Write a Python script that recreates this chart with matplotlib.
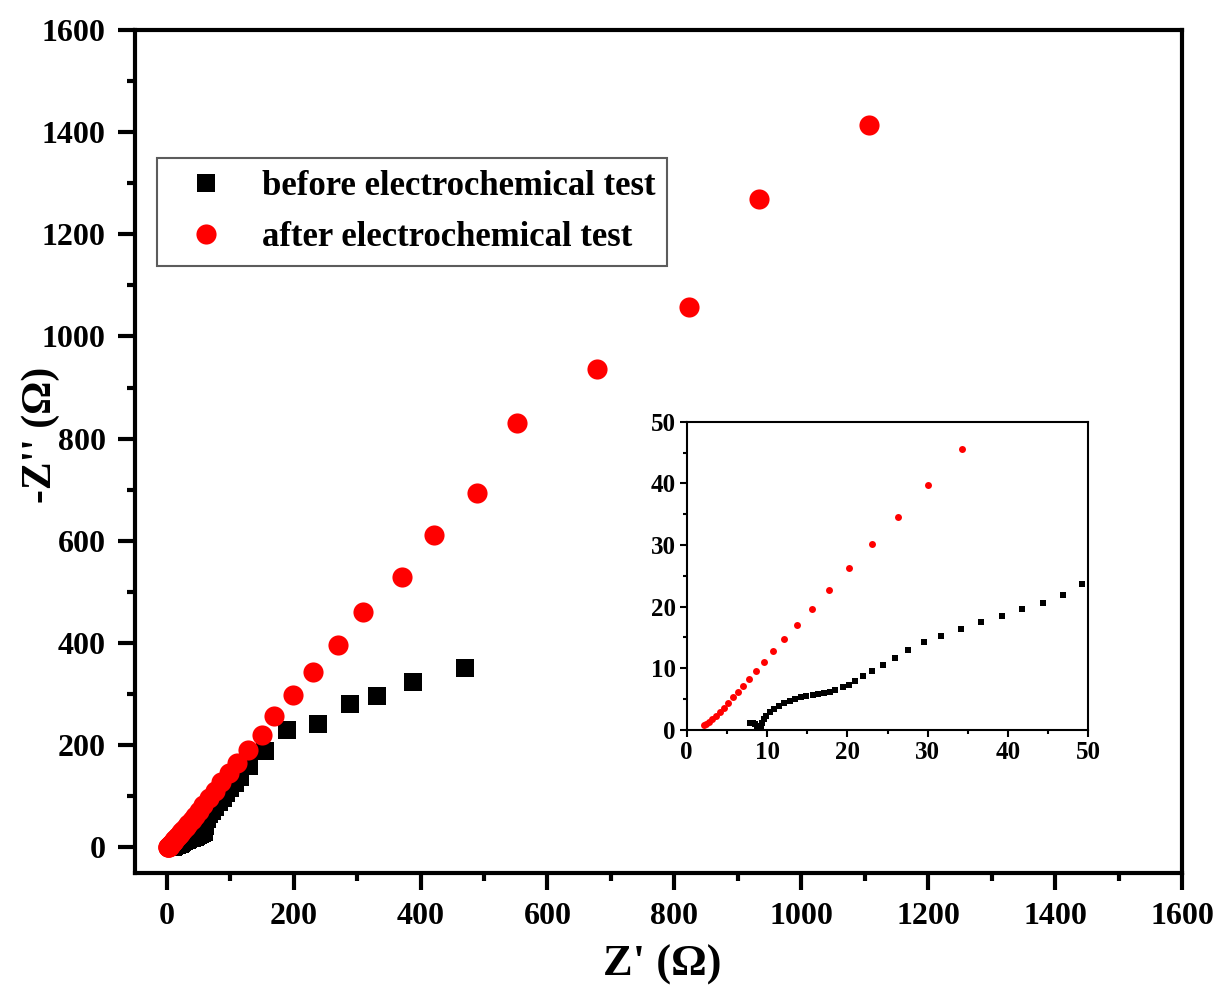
import matplotlib
matplotlib.use("Agg")
import matplotlib.pyplot as plt
from matplotlib.ticker import MultipleLocator
from matplotlib.lines import Line2D

plt.rcParams['font.family'] = ['Liberation Serif', 'DejaVu Serif']
plt.rcParams['font.weight'] = 'bold'

# Nyquist data, before electrochemical test (Z', -Z'' in ohm)
before_x = [7.9, 8.2, 8.5, 8.8, 9.0, 9.2, 9.4, 9.6, 9.9, 10.4, 10.9, 11.5, 12.1,
            12.8, 13.5, 14.2, 14.9, 15.7, 16.4, 17.1, 17.8, 18.5, 19.4, 20.2,
            21.0, 22.0, 23.1, 24.4, 25.9, 27.6, 29.5, 31.6, 34.1, 36.6, 39.2,
            41.8, 44.3, 46.8, 49.2, 52, 55, 58, 61, 64, 67, 71, 76, 82, 88, 94,
            100, 107, 115, 129, 154.5, 189, 238, 288.4, 331, 387.7, 469.7]
before_y = [1.2, 1.05, 0.9, 0.6, 0.5, 0.7, 1.2, 1.7, 2.3, 2.9, 3.4, 3.9, 4.3,
            4.75, 5.1, 5.3, 5.5, 5.6, 5.8, 5.95, 6.2, 6.5, 6.9, 7.35,
            8.0, 8.7, 9.6, 10.6, 11.7, 13.0, 14.2, 15.3, 16.4, 17.5, 18.5,
            19.6, 20.6, 21.9, 23.6, 25.5, 27.5, 31, 42, 55, 66, 72, 79, 88, 97,
            106, 117, 127, 137, 159, 188, 229, 241, 280, 296, 323, 351]

# Nyquist data, after electrochemical test
after_x = [2.1, 2.4, 2.8, 3.2, 3.65, 4.15, 4.6, 5.2, 5.8, 6.35, 7.05, 7.8, 8.6,
           9.6, 10.8, 12.1, 13.7, 15.6, 17.7, 20.2, 23.1, 26.3, 30.1, 34.3,
           39.1, 44.6, 50.8, 57.9, 66.0, 75.3, 85.8, 97.8, 111.5, 128, 150,
           169, 199, 230, 270, 310, 370, 421, 489, 552, 678, 823, 933, 1106]
after_y = [0.8, 0.9, 1.25, 1.7, 2.3, 2.9, 3.6, 4.4, 5.3, 6.2, 7.1, 8.2, 9.6,
           11.1, 12.8, 14.8, 17.1, 19.7, 22.7, 26.2, 30.1, 34.6, 39.8, 45.6,
           53, 62, 72, 83, 96, 111, 128, 146, 166, 190, 221,
           257, 298, 343, 396, 460, 529, 611, 693, 831, 936, 1058, 1269, 1414]

labels = ['before electrochemical test', 'after electrochemical test']
main_ticks = list(range(0, 1601, 200))
inset_ticks = list(range(0, 51, 10))

fig = plt.figure(figsize=(12.25, 9.91), dpi=100)

# ---- main Nyquist plot ----
ax = fig.add_axes([0.1102, 0.1191, 0.8547, 0.8507])
ax.plot(before_x, before_y, ls='none', marker='s', ms=13, mew=0, color='black')
ax.plot(after_x, after_y, ls='none', marker='o', ms=14.5, mew=0, color='red')
ax.set_xlim(-50, 1600)
ax.set_ylim(-50, 1600)
ax.set_xticks(main_ticks)
ax.set_yticks(main_ticks)
ax.xaxis.set_minor_locator(MultipleLocator(100))
ax.yaxis.set_minor_locator(MultipleLocator(100))
ax.tick_params(which='both', direction='out', top=False, right=False, width=3)
ax.tick_params(which='major', length=12)
ax.tick_params(which='minor', length=6)
ax.tick_params(axis='x', which='major', labelsize=23, pad=9)
ax.tick_params(axis='y', which='major', labelsize=23, pad=9)
for sp in ax.spines.values():
    sp.set_linewidth(3)
ax.set_xlabel("Z' (Ω)", fontsize=32, fontweight='bold')
ax.set_ylabel("-Z'' (Ω)", fontsize=30, fontweight='bold')
ax.xaxis.set_label_coords(0.504, -0.085)
ax.yaxis.set_label_coords(-0.072, 0.52)

handles = [Line2D([], [], ls='none', marker='s', ms=13, mew=0, color='black'),
           Line2D([], [], ls='none', marker='o', ms=14.5, mew=0, color='red')]
leg = ax.legend(handles, labels, loc='upper left',
                bbox_to_anchor=(157 / 1225, 1 - 158 / 991),
                bbox_transform=fig.transFigure, borderaxespad=0,
                fontsize=25, frameon=True, fancybox=False, borderpad=0.35,
                handlelength=2.1, handletextpad=0.56, labelspacing=0.52)
leg.get_frame().set_edgecolor('#333333')
leg.get_frame().set_linewidth(1.5)

# ---- inset: high-frequency region ----
axi = fig.add_axes([0.5606, 0.2634, 0.3278, 0.3111])
axi.plot(before_x, before_y, ls='none', marker='s', ms=4.5, mew=0, color='black')
axi.plot(after_x, after_y, ls='none', marker='o', ms=5, mew=0, color='red')
axi.set_xlim(0, 50)
axi.set_ylim(0, 50)
axi.set_xticks(inset_ticks)
axi.set_yticks(inset_ticks)
axi.xaxis.set_minor_locator(MultipleLocator(5))
axi.yaxis.set_minor_locator(MultipleLocator(5))
axi.tick_params(which='both', direction='out', top=False, right=False, width=1.5)
axi.tick_params(which='major', length=5, labelsize=18, pad=3)
axi.tick_params(which='minor', length=3)
for sp in axi.spines.values():
    sp.set_linewidth(1.5)

fig.savefig('out.png', dpi=100)
